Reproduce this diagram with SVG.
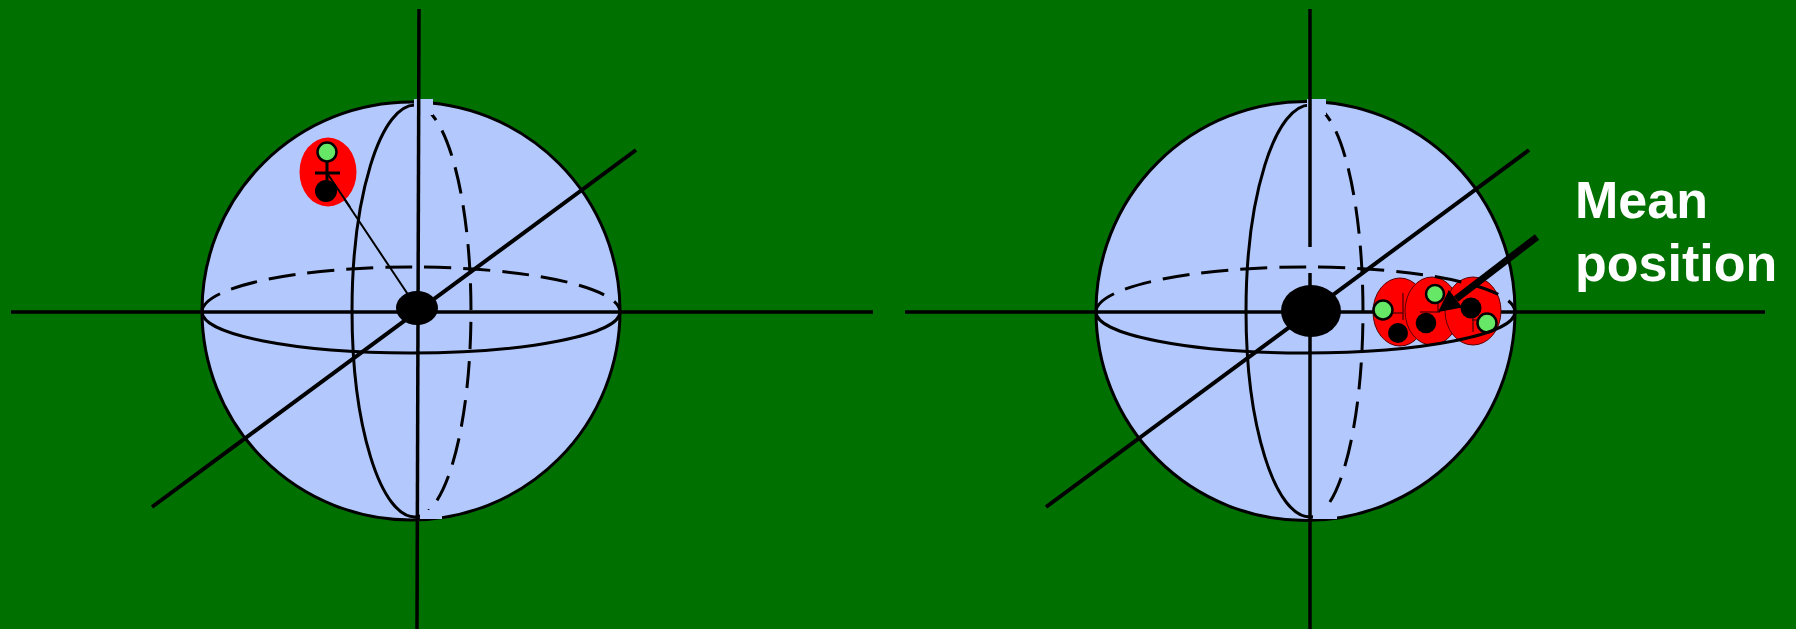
<svg xmlns="http://www.w3.org/2000/svg" width="1796" height="629" viewBox="0 0 1796 629">
<style>
.sph{fill:#b3c8fc;stroke:#000;stroke-width:3}
.patch{fill:#b3c8fc;stroke:none}
.ln{stroke:#000;fill:none;stroke-width:3}
.dash{stroke:#000;fill:none;stroke-width:3;stroke-dasharray:27 12}
.ax{stroke:#000;stroke-width:3.5}
.diag{stroke:#000;stroke-width:4}
.red{fill:#ff0000;stroke:#5a0000;stroke-width:1}
.grn{fill:#66e866;stroke:#000;stroke-width:2.5}
.blk{fill:#000}
.thin{stroke:#400;stroke-width:1.2}
.lbl{font-family:"Liberation Sans",Arial,sans-serif;font-weight:bold;font-size:52px;fill:#fff}
</style>
<rect x="0" y="0" width="1796" height="629" fill="#007000"/>

<g id="sphere-left">
  <circle class="sph" cx="411" cy="311" r="209"/>
  <path class="dash" d="M415,105 A56,206 0 0 1 415,517"/>
  <path class="ln" d="M415,105 A63,206 0 0 0 415,517"/>
  <rect class="patch" x="414" y="99" width="19" height="16"/>
  <rect class="patch" x="420" y="510" width="22" height="9"/>
  <line class="ax" x1="11" y1="312" x2="873" y2="312"/>
  <line class="ax" x1="419" y1="9" x2="417" y2="629"/>
  <line class="diag" x1="152" y1="507" x2="636" y2="150"/>
  <path class="dash" d="M202,312 A209,45 0 0 1 620,312"/>
  <path class="ln" d="M620,312 A209,41 0 0 1 202,312"/>
  <line stroke="#000" stroke-width="2" x1="327" y1="173" x2="417" y2="308"/>
  <ellipse class="blk" cx="417" cy="308" rx="21" ry="17"/>
</g>

<g id="state-left">
  <ellipse fill="#ff0000" cx="328" cy="172" rx="28.5" ry="34.5"/>
  <line stroke="#000" stroke-width="3" x1="327" y1="161" x2="327" y2="182"/>
  <line stroke="#000" stroke-width="3" x1="315" y1="173" x2="340" y2="173"/>
  <line stroke="#000" stroke-width="2" x1="327" y1="173" x2="350" y2="207"/>
  <circle class="grn" cx="327" cy="152" r="9.5"/>
  <circle class="blk" cx="326" cy="191" r="11"/>
</g>

<g id="sphere-right">
  <circle class="sph" cx="1305.5" cy="311" r="209.5"/>
  <path class="dash" d="M1310,105 A53,206 0 0 1 1310,517"/>
  <path class="ln" d="M1310,105 A64,206 0 0 0 1310,517"/>
  <rect class="patch" x="1307" y="99" width="19" height="16"/>
  <rect class="patch" x="1313" y="510" width="24" height="9"/>
  <line class="ax" x1="905" y1="312" x2="1765" y2="312"/>
  <line class="ax" x1="1310" y1="9" x2="1310" y2="629"/>
  <rect class="patch" x="1307" y="247" width="7" height="26"/>
  <line class="diag" x1="1046" y1="507" x2="1529" y2="150"/>
  <ellipse class="blk" cx="1311" cy="311" rx="30" ry="26"/>
</g>

<g id="cluster-right">
  <ellipse class="red" cx="1400" cy="312" rx="27" ry="34"/>
  <line class="thin" x1="1403" y1="293" x2="1403" y2="320"/>
  <line class="thin" x1="1393" y1="313" x2="1403" y2="313"/>
  <circle class="grn" cx="1383" cy="310" r="9.5"/>
  <circle class="blk" cx="1398" cy="333" r="10"/>
  <ellipse class="red" cx="1432" cy="311" rx="27" ry="34"/>
  <line class="thin" x1="1438" y1="302" x2="1438" y2="312"/>
  <line class="thin" x1="1420" y1="312" x2="1440" y2="312"/>
  <circle class="grn" cx="1435" cy="294" r="9"/>
  <circle class="blk" cx="1426" cy="323" r="10.3"/>
  <ellipse class="red" cx="1473" cy="311" rx="28" ry="34"/>
  <line class="thin" x1="1473" y1="317" x2="1473" y2="332"/>
  <line class="thin" x1="1472" y1="320" x2="1487" y2="320"/>
  <circle class="blk" cx="1471" cy="308" r="10.5"/>
  <circle class="grn" cx="1487" cy="323" r="9.5"/>
</g>

<g id="equator-right">
  <path class="dash" d="M1096,312 A209.5,45 0 0 1 1515,312"/>
  <path class="ln" d="M1515,312 A209.5,41 0 0 1 1096,312"/>
</g>

<g id="connectors">
  <line stroke="#000" stroke-width="7" x1="1537" y1="237" x2="1456" y2="299"/>
  <polygon fill="#000" points="1438,312 1462.3,307.5 1448.9,289.9"/>
</g>

<g id="label">
  <text class="lbl" x="1575" y="218">Mean</text>
  <text class="lbl" x="1575" y="281">position</text>
</g>
</svg>
